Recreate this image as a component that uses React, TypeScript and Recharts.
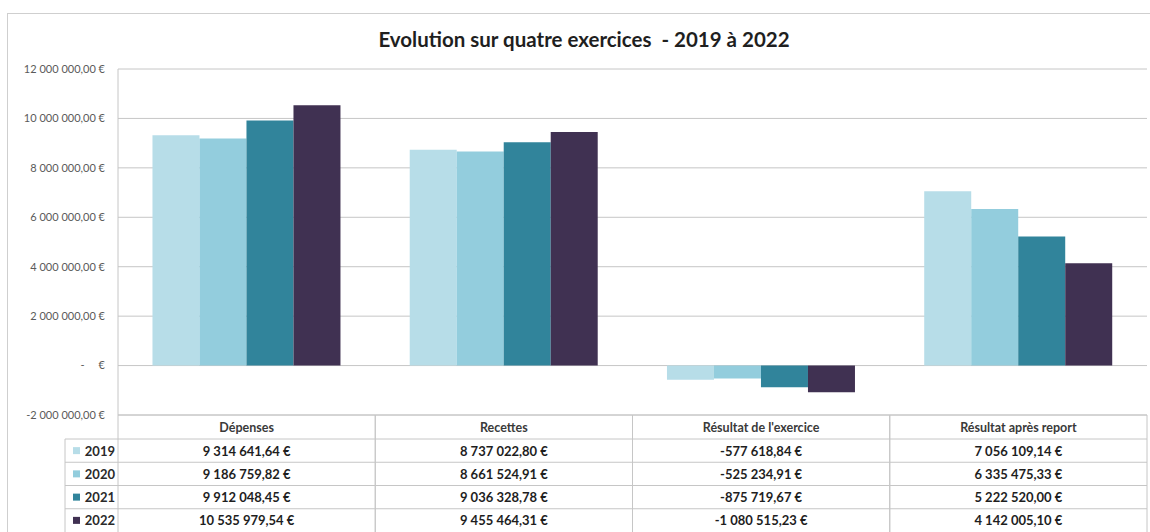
import React from "react";
import { BarChart, Bar, XAxis, YAxis, CartesianGrid } from "recharts";

const CATEGORIES = ["Dépenses", "Recettes", "Résultat de l'exercice", "Résultat après report"];
const YEARS = ["2019", "2020", "2021", "2022"];
const VALUES_2019 = [9314641.64, 8737022.8, -577618.84, 7056109.14];
const VALUES_2020 = [9186759.82, 8661524.91, -525234.91, 6335475.33];
const VALUES_2021 = [9912048.45, 9036328.78, -875719.67, 5222520.0];
const VALUES_2022 = [10535979.54, 9455464.31, -1080515.23, 4142005.1];
const Y_TICKS = [-2000000, 0, 2000000, 4000000, 6000000, 8000000, 10000000, 12000000];

const SERIES = [VALUES_2019, VALUES_2020, VALUES_2021, VALUES_2022];
const COLORS = ["#b7dde8", "#93cddd", "#31849b", "#403152"];

const W = 1150;
const H = 532;
const PLOT_LEFT = 118;
const PLOT_RIGHT = 1147;
const PLOT_BOTTOM = 415;
const HEADER_BOTTOM = 439;
const ROW_H = 23.25;
const LEGEND_LEFT = 65;
const LINE = "#c6c6c6";
const FONT = "Lato, 'Open Sans', sans-serif";

const data = CATEGORIES.map((name, i) => {
  const row: Record<string, any> = { name };
  YEARS.forEach((y, j) => {
    row[y] = SERIES[j][i];
  });
  return row;
});

function euro(v: number) {
  const neg = v < 0;
  const [int, dec] = Math.abs(v).toFixed(2).split(".");
  const grouped = int.replace(/\B(?=(\d{3})+(?!\d))/g, " ");
  return (neg ? "-" : "") + grouped + "," + dec + " €";
}

function axisLabel(v: number) {
  if (v === 0) return "-\u00a0\u00a0\u00a0\u00a0\u00a0€";
  const neg = v < 0;
  const grouped = Math.abs(v).toFixed(0).replace(/\B(?=(\d{3})+(?!\d))/g, " ");
  return (neg ? "-" : "") + grouped + ",00 €";
}

// renders one column of the data table under each category
const TableTick = (props: any) => {
  const { x, payload } = props;
  const idx = CATEGORIES.indexOf(payload.value);
  const bw = (PLOT_RIGHT - PLOT_LEFT) / CATEGORIES.length;
  const left = x - bw / 2;
  const right = x + bw / 2;
  const bottom = HEADER_BOTTOM + ROW_H * YEARS.length;
  return (
    <g>
      <line x1={left} x2={right} y1={PLOT_BOTTOM} y2={PLOT_BOTTOM} stroke={LINE} />
      <line x1={left} x2={left} y1={PLOT_BOTTOM} y2={bottom} stroke={LINE} />
      <line x1={right} x2={right} y1={PLOT_BOTTOM} y2={bottom} stroke={LINE} />
      <text x={x} y={427} textAnchor="middle" dominantBaseline="central" fontSize={12.5} fontWeight={700} fill="#3a3a3a" fontFamily={FONT}>
        {payload.value}
      </text>
      {YEARS.map((yr, j) => {
        const top = HEADER_BOTTOM + ROW_H * j;
        return (
          <g key={yr}>
            <line x1={idx === 0 ? LEGEND_LEFT : left} x2={right} y1={top} y2={top} stroke={LINE} />
            {idx === 0 && (
              <g>
                <rect x={73} y={top + ROW_H / 2 - 3.5} width={7} height={7} fill={COLORS[j]} />
                <text x={115} y={top + ROW_H / 2} textAnchor="end" dominantBaseline="central" fontSize={13} fontWeight={700} fill="#2a2a2a" fontFamily={FONT}>
                  {yr}
                </text>
              </g>
            )}
            <text x={x} y={top + ROW_H / 2} textAnchor="middle" dominantBaseline="central" fontSize={13} fontWeight={700} fill="#1e1e1e" fontFamily={FONT}>
              {euro(SERIES[j][idx])}
            </text>
          </g>
        );
      })}
      {idx === 0 && <line x1={LEGEND_LEFT} x2={LEGEND_LEFT} y1={HEADER_BOTTOM} y2={bottom} stroke={LINE} />}
    </g>
  );
};

export default function App() {
  return (
    <div style={{ position: "absolute", left: 0, top: 0, width: W, height: H, overflow: "hidden", background: "#fff" }}>
      <div
        style={{
          position: "absolute",
          left: 7,
          top: 13,
          width: W,
          height: H,
          border: "1px solid #cfcfcf",
        }}
      />
      <div
        style={{
          position: "absolute",
          left: 0,
          top: 27,
          width: 1168,
          textAlign: "center",
          fontFamily: FONT,
          fontWeight: 700,
          fontSize: 20.5,
          color: "#1f1f1f",
          whiteSpace: "pre",
        }}
      >
        {"Evolution sur quatre exercices  - 2019 à 2022"}
      </div>
      <div style={{ position: "absolute", left: 0, top: 0 }}>
        <BarChart
          width={W}
          height={H}
          data={data}
          margin={{ top: 69, right: W - PLOT_RIGHT, bottom: 0, left: 8 }}
          barCategoryGap="13.4%"
          barGap={0}
        >
          <CartesianGrid vertical={false} stroke={LINE} />
          <XAxis
            dataKey="name"
            axisLine={false}
            tickLine={false}
            height={H - PLOT_BOTTOM}
            interval={0}
            tick={<TableTick />}
          />
          <YAxis
            width={PLOT_LEFT - 8}
            domain={[-2000000, 12000000]}
            ticks={Y_TICKS}
            interval={0}
            tickSize={0}
            tickMargin={13}
            axisLine={{ stroke: LINE }}
            tickLine={false}
            tickFormatter={axisLabel}
            tick={{ fontSize: 11, fill: "#5a5a5a", fontFamily: FONT }}
          />
          {YEARS.map((yr, j) => (
            <Bar key={yr} dataKey={yr} fill={COLORS[j]} isAnimationActive={false} />
          ))}
        </BarChart>
      </div>
    </div>
  );
}
